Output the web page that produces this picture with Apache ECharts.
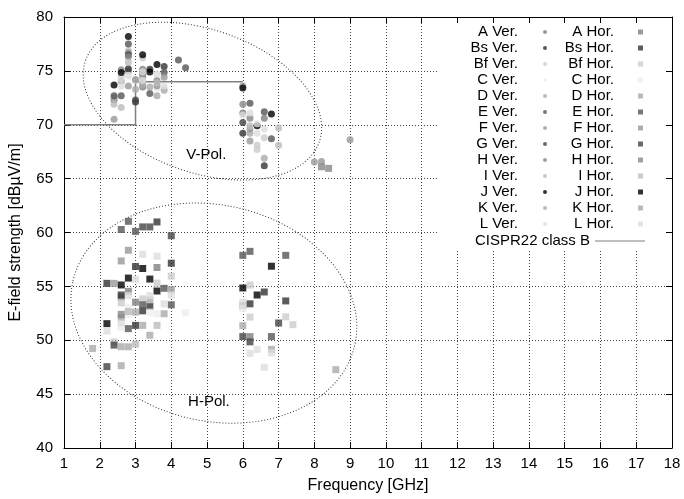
<!DOCTYPE html>
<html>
<head>
<meta charset="utf-8">
<script src="https://cdn.jsdelivr.net/npm/echarts@6/dist/echarts.min.js"></script>
<style>
html, body { margin: 0; padding: 0; background: #fff; }
#chart { width: 684px; height: 499px; }
</style>
</head>
<body>
<div id="chart"></div>
<script>
// measured E-field values, [frequency GHz, dBuV/m]
const aVer = [[2.4,72.3],[2.8,75.0],[3.2,73.5],[6.0,71.1],[6.6,70.6]]
const bsVer = [[2.8,75.2],[3.4,75.15],[3.8,75.4],[3.0,72.1],[6.0,69.2],[6.6,66.2]]
const bfVer = [[2.6,74.5],[2.8,76.9],[3.0,74.1],[3.2,76.2],[6.4,68.1],[6.4,67.7],[6.6,68.8]]
const cVer = [[2.8,74.4],[3.6,73.4],[3.8,73.4],[6.2,70.8]]
const dVer = [[2.4,72.5],[3.0,73.3],[3.2,73.9],[3.6,72.7],[3.8,73.2],[6.6,66.9],[6.2,69.2]]
const eVer = [[2.8,77.5],[2.4,72.7],[2.6,72.7],[3.2,74.7],[3.4,72.9],[3.8,74.85],[4.2,76.0],[4.4,75.3],[6.2,72.0],[6.6,71.2],[6.8,68.7]]
const fVer = [[2.4,70.5],[2.8,76.7],[2.8,73.6],[3.0,74.2],[3.2,74.4],[3.6,73.6],[3.8,74.4],[6.0,73.6],[6.2,69.6],[6.2,68.5],[8.0,66.55],[8.2,66.6],[9.0,68.6]]
const gVer = [[2.8,76.5],[3.0,72.3],[6.0,70.2]]
const hVer = [[2.6,75.1],[2.6,74.05],[2.8,76.3],[3.2,75.15],[3.6,74.1],[6.0,71.9],[6.2,70.6]]
const iVer = [[2.4,71.9],[2.6,71.6],[2.8,75.8],[3.6,73.9],[6.2,69.9],[7.0,69.7],[7.0,68.1]]
const jVer = [[2.4,73.7],[2.6,74.85],[2.8,78.2],[3.2,76.5],[3.4,74.9],[3.6,75.6],[6.0,73.4],[6.8,71.0],[6.4,69.9]]
const kVer = [[3.4,73.5],[3.2,73.7]]
const lVer = [[2.6,74.2],[2.6,73.6],[2.8,74.6],[3.2,74.9],[3.2,74.1],[3.6,74.7],[3.8,73.6],[6.0,70.9],[6.2,71.1],[6.4,70.1],[6.4,69.2],[6.6,69.6]]

const aHor = [[3.6,56.75],[2.8,54.54],[2.6,54.0],[3.0,53.53],[6.2,50.34],[6.0,53.2]]
const bsHor = [[3.6,60.98],[3.0,56.84],[4.0,57.15],[2.2,55.28],[2.6,54.2],[3.4,53.13],[3.2,52.73],[3.0,51.38],[6.6,54.48],[6.2,53.38],[7.2,53.65]]
const bfHor = [[3.6,55.3],[4.0,55.95],[2.6,53.47],[3.2,53.84],[6.2,55.12],[6.2,52.15],[7.2,52.18],[7.4,51.45],[2.4,49.85]]
const cHor = [[3.4,52.61],[3.6,52.46],[4.4,52.55],[2.8,53.07],[2.8,52.36],[2.6,51.2],[6.0,52.95]]
const dHor = [[3.4,53.74],[3.0,52.61],[3.8,52.46],[3.2,51.38],[2.8,49.39],[1.8,49.24],[6.0,51.35],[6.8,49.15],[8.6,47.27]]
const eHor = [[2.8,61.04],[2.6,60.28],[3.0,60.1],[3.8,54.82],[4.0,53.29],[3.2,53.29],[2.8,51.08],[6.0,57.88],[6.2,58.25],[7.2,57.88],[6.8,50.34]]
const fHor = [[2.8,58.35],[2.6,57.36],[2.4,55.28],[4.0,54.7],[2.6,52.1]]
const gHor = [[3.2,60.52],[3.4,60.52],[4.0,59.7],[2.2,47.55],[6.0,50.34],[6.2,49.85],[7.0,51.6],[2.4,49.55]]
const hHor = [[2.6,52.4],[8.2,66.1],[8.4,65.95]]
const iHor = [[3.6,51.38],[3.0,49.64],[2.8,52.67]]
const jHor = [[3.2,56.66],[2.8,55.77],[3.4,55.68],[2.6,55.13],[3.6,54.57],[2.2,51.54],[6.0,54.85],[6.4,54.2],[6.8,56.87]]
const kHor = [[2.6,47.64],[2.6,49.4],[3.4,50.46]]
const lHor = [[3.2,57.98],[3.6,57.8],[3.0,55.65],[4.0,54.2],[2.8,54.14],[3.4,54.14],[3.8,53.38],[2.6,51.6],[2.2,50.86],[6.0,53.53],[6.4,49.15],[6.2,48.78],[6.6,47.49],[6.8,48.84]]

const verNames = ['A Ver.','Bs Ver.','Bf Ver.','C Ver.','D Ver.','E Ver.','F Ver.','G Ver.','H Ver.','I Ver.','J Ver.','K Ver.','L Ver.']
const horNames = ['A Hor.','Bs Hor.','Bf Hor.','C Hor.','D Hor.','E Hor.','F Hor.','G Hor.','H Hor.','I Hor.','J Hor.','K Hor.','L Hor.']
const verData = [aVer, bsVer, bfVer, cVer, dVer, eVer, fVer, gVer, hVer, iVer, jVer, kVer, lVer]
const horData = [aHor, bsHor, bfHor, cHor, dHor, eHor, fHor, gHor, hHor, iHor, jHor, kHor, lHor]
const shades = ['#808080','#333333','#cccccc','#eeeeee','#aaaaaa','#555555','#999999','#444444','#888888','#bbbbbb','#000000','#aaaaaa','#dddddd']

// CISPR22 class B limit
const limitName = 'CISPR22 class B'
const limitF = [1, 3, 3, 6]
const limitV = [70, 70, 74, 74]

// ellipses: centre f, centre dB, half width GHz, half height dB, tilt deg
const ellipses = [[4.87, 72.19, 3.46, 6.64, 19.2], [5.19, 52.52, 4.04, 10.02, 12.8]]
const notes = [[4.42, 67.2, 'V-Pol.'], [4.47, 44.3, 'H-Pol.']]

const xTicks = [1, 18, 1]
const yTicks = [40, 80, 5]

const font = 'Liberation Sans, Arial, sans-serif'
const dotted = { type: [1, 2], color: '#444', width: 1 }

var series = []
for (var i = 0; i < verNames.length; i++) {
    series.push({ name: verNames[i], type: 'scatter', symbol: 'circle', symbolSize: 7,
        itemStyle: { color: shades[i] }, data: verData[i], z: 3 })
}
for (var i = 0; i < horNames.length; i++) {
    series.push({ name: horNames[i], type: 'scatter', symbol: 'rect', symbolSize: 7,
        itemStyle: { color: shades[i] }, data: horData[i], z: 3 })
}
series.push({
    name: limitName, type: 'line', symbol: 'none', z: 2,
    lineStyle: { color: '#808080', width: 1.5 }, itemStyle: { color: '#808080' },
    data: limitF.map((f, k) => [f, limitV[k]])
})
series.push({
    type: 'custom', silent: true, z: 1, data: ellipses,
    renderItem: function (params, api) {
        var c = api.coord([api.value(0), api.value(1)])
        var s = api.size([api.value(2), api.value(3)])
        return {
            type: 'ellipse', x: c[0], y: c[1], rotation: -api.value(4) * Math.PI / 180,
            shape: { cx: 0, cy: 0, rx: s[0], ry: s[1] },
            style: { fill: null, stroke: '#333', lineWidth: 1, lineDash: [1, 2] }
        }
    }
})
series.push({
    type: 'custom', silent: true, z: 3, data: notes,
    renderItem: function (params, api) {
        var c = api.coord([api.value(0), api.value(1)])
        return {
            type: 'text', x: c[0], y: c[1],
            style: { text: notes[params.dataIndex][2], font: '15px ' + font, fill: '#000', align: 'left', verticalAlign: 'middle' }
        }
    }
})

function axisBase(min, max, step) {
    return {
        type: 'value', min: min, max: max, interval: step,
        axisLine: { show: true, onZero: false, lineStyle: { color: '#000', width: 1 } },
        axisTick: { show: true, inside: true, length: 6, lineStyle: { color: '#000' } }
    }
}

var xMain = Object.assign(axisBase(xTicks[0], xTicks[1], xTicks[2]), {
    position: 'bottom',
    axisLabel: { color: '#000', fontSize: 15, fontFamily: font, margin: 8 },
    splitLine: { show: true, lineStyle: dotted },
    name: 'Frequency [GHz]', nameLocation: 'middle', nameGap: 30,
    nameTextStyle: { color: '#000', fontSize: 16, fontFamily: font }
})
var xTop = Object.assign(axisBase(xTicks[0], xTicks[1], xTicks[2]), {
    position: 'top', axisLabel: { show: false }, splitLine: { show: false }
})
var yMain = Object.assign(axisBase(yTicks[0], yTicks[1], yTicks[2]), {
    position: 'left',
    axisLabel: { color: '#000', fontSize: 15, fontFamily: font, margin: 11 },
    splitLine: { show: true, lineStyle: dotted },
    name: 'E-field strength [dBµV/m]', nameLocation: 'middle', nameGap: 40,
    nameTextStyle: { color: '#000', fontSize: 16, fontFamily: font }
})
var yRight = Object.assign(axisBase(yTicks[0], yTicks[1], yTicks[2]), {
    position: 'right', axisLabel: { show: false }, splitLine: { show: false }
})

var legendText = { color: '#000', fontSize: 15, fontFamily: font, lineHeight: 16 }

var option = {
    animation: false,
    backgroundColor: '#fff',
    grid: { left: 60, right: 12, top: 17, bottom: 47 },
    xAxis: [xMain, xTop],
    yAxis: [yMain, yRight],
    graphic: [{
        type: 'rect', left: 438, top: 23, z: 1, silent: true,
        shape: { width: 227, height: 227 }, style: { fill: '#fff' }
    }],
    legend: [
        { data: verNames, orient: 'vertical', align: 'right', right: 137, top: 24, padding: 0, itemGap: 0,
          itemWidth: 44, itemHeight: 4, icon: 'circle', selectedMode: false, textStyle: legendText },
        { data: horNames, orient: 'vertical', align: 'right', right: 41, top: 24, padding: 0, itemGap: 0,
          itemWidth: 43, itemHeight: 5, icon: 'path://M0,0L1,0L1,1L0,1Z', symbolKeepAspect: true,
          selectedMode: false, textStyle: legendText },
        { data: [limitName], orient: 'vertical', align: 'right', right: 39, top: 233, padding: 0,
          itemWidth: 50, itemHeight: 1, icon: 'rect', selectedMode: false, textStyle: legendText }
    ],
    series: series
}

var myChart = echarts.init(document.getElementById('chart'))
myChart.setOption(option)
</script>
</body>
</html>
